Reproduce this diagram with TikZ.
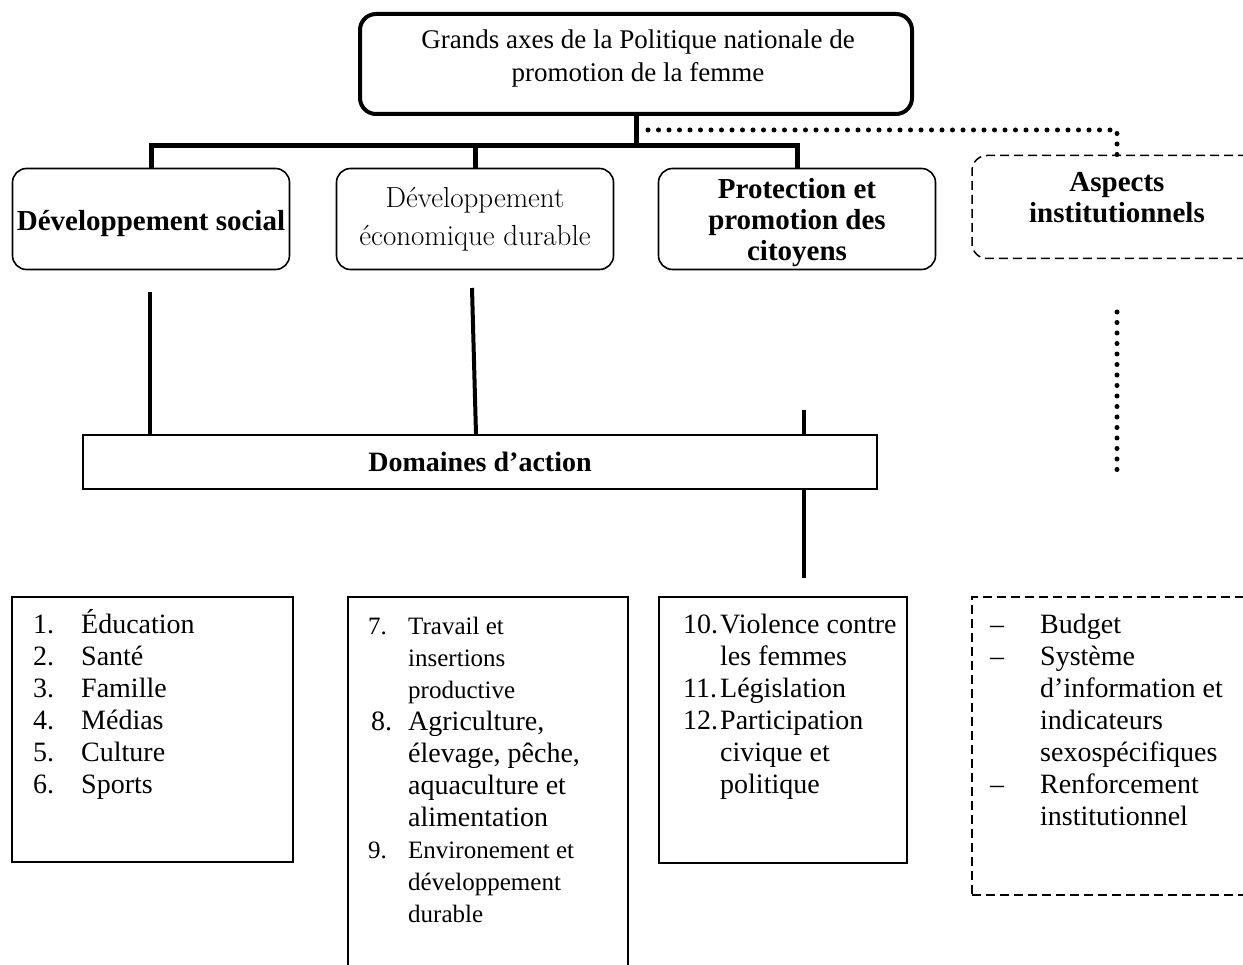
\documentclass[tikz,border=0pt]{standalone}
\usepackage{fontspec}
\newfontfamily\tnr{Liberation Serif}
\newcommand{\mystrut}{\rule{0pt}{27pt}}
\begin{document}
\begin{tikzpicture}[x=1pt,y=-1pt,
  rbox/.style={draw, rounded corners=14pt, line width=1.6pt, minimum width=277pt, minimum height=101pt, inner sep=0pt},
  conn/.style={line width=5pt},
  lconn/.style={line width=4pt},
  dotline/.style={line width=5pt, line cap=round, dash pattern=on 0pt off 10.5pt},
  dashbox/.style={draw, line width=1.5pt, dash pattern=on 9pt off 5pt},
  lbox/.style={draw, line width=1.5pt, inner sep=0pt},
  ltext/.style={anchor=north west, inner sep=0pt, align=left, font=\tnr\fontsize{28}{32}\selectfont},
  bt/.style={font=\tnr\bfseries\fontsize{29}{31}\selectfont, align=center, inner sep=0pt}
]
\useasboundingbox (0,0) rectangle (1243,965);
\clip (0,0) rectangle (1243,965);

% top box
\node[draw, rounded corners=16pt, line width=4pt, minimum width=552pt, minimum height=100pt] (top) at (636,64) {};
\node[font=\tnr\fontsize{27}{33}\selectfont, align=center, inner sep=0pt] (toptext) at (638,59) {Grands axes de la Politique nationale de\\promotion de la femme};

% second level
\node[rbox] (ds) at (151,219) {};
\node[bt] (dstext) at (151,224) {Développement social};
\node[rbox, align=center, font=\fontsize{29}{38}\selectfont] (de) at (475,219) {Développement\\économique durable};
\node[rbox] (pr) at (797,219) {};
\node[bt] (prtext) at (797,223) {Protection et\\promotion des\\citoyens};
\node[dashbox, rounded corners=15pt, minimum width=290pt, minimum height=103pt] (asp) at (1117,207) {};
\node[bt] (asptext) at (1117,198) {Aspects\\institutionnels};

% bars
\coordinate (bar) at (636,146);
\draw[conn] (top.south) -- (bar);
\draw[conn] (ds.north) -- (ds.north |- bar) -- (pr.north |- bar) -- (pr.north);
\draw[conn] (de.north) -- (de.north |- bar);
\coordinate (dstart) at (648,130);
\draw[dotline] (dstart) -| (asp.north);

% domaines
\node[lbox, minimum width=794pt, minimum height=54pt, font=\tnr\bfseries\fontsize{28}{32}\selectfont] (dom) at (480,462) {Domaines d’action};

\coordinate (c1) at (150,292);
\draw[lconn] (c1) -- (dom.north -| c1);
\coordinate (c2) at (472,288);
\coordinate (c2b) at (476,300);
\draw[lconn] (c2) -- (dom.north -| c2b);
\coordinate (c3) at (804,410);
\draw[lconn] (c3) -- (dom.north -| c3);
\coordinate (c3b) at (804,578);
\draw[lconn] (dom.south -| c3b) -- (c3b);
\coordinate (d1) at (1117,312);
\coordinate (d2) at (1117,472);
\draw[dotline] (d1) -- (d2);

% list boxes
\node[lbox, minimum width=281pt, minimum height=265pt] (b1) at (152.5,729.5) {};
\node[lbox, minimum width=280pt, minimum height=402pt] (b2) at (488,798) {};
\node[lbox, minimum width=248pt, minimum height=266pt] (b3) at (783,730) {};
\node[dashbox, inner sep=0pt, minimum width=288pt, minimum height=298pt] (b4) at (1116,746) {};

\node[ltext] (t1) at (33,606) {\mystrut\makebox[48pt][l]{1.}Éducation\\
\makebox[48pt][l]{2.}Santé\\
\makebox[48pt][l]{3.}Famille\\
\makebox[48pt][l]{4.}Médias\\
\makebox[48pt][l]{5.}Culture\\
\makebox[48pt][l]{6.}Sports};

\node[ltext] (t2) at (368,607) {\mystrut{\fontsize{25}{32}\selectfont\makebox[40pt][l]{7.}Travail et}\\
{\fontsize{25}{32}\selectfont\hspace*{40pt}insertions}\\
{\fontsize{25}{32}\selectfont\hspace*{40pt}productive}\\
\hspace*{3pt}\makebox[37pt][l]{8.}Agriculture,\\
\hspace*{40pt}élevage, pêche,\\
\hspace*{40pt}aquaculture et\\
\hspace*{40pt}alimentation\\
{\fontsize{25}{32}\selectfont\makebox[40pt][l]{9.}Environement et}\\
{\fontsize{25}{32}\selectfont\hspace*{40pt}développement}\\
{\fontsize{25}{32}\selectfont\hspace*{40pt}durable}};

\node[ltext] (t3) at (683,606) {\mystrut\makebox[37pt][l]{10.}Violence contre\\
\hspace*{37pt}les femmes\\
\makebox[37pt][l]{11.}Législation\\
\makebox[37pt][l]{12.}Participation\\
\hspace*{37pt}civique et\\
\hspace*{37pt}politique};

\node[ltext] (t4) at (990,606) {\mystrut\makebox[50pt][l]{–}Budget\\
\makebox[50pt][l]{–}Système\\
\hspace*{50pt}d’information et\\
\hspace*{50pt}indicateurs\\
\hspace*{50pt}sexospécifiques\\
\makebox[50pt][l]{–}Renforcement\\
\hspace*{50pt}institutionnel};
\end{tikzpicture}
\end{document}
